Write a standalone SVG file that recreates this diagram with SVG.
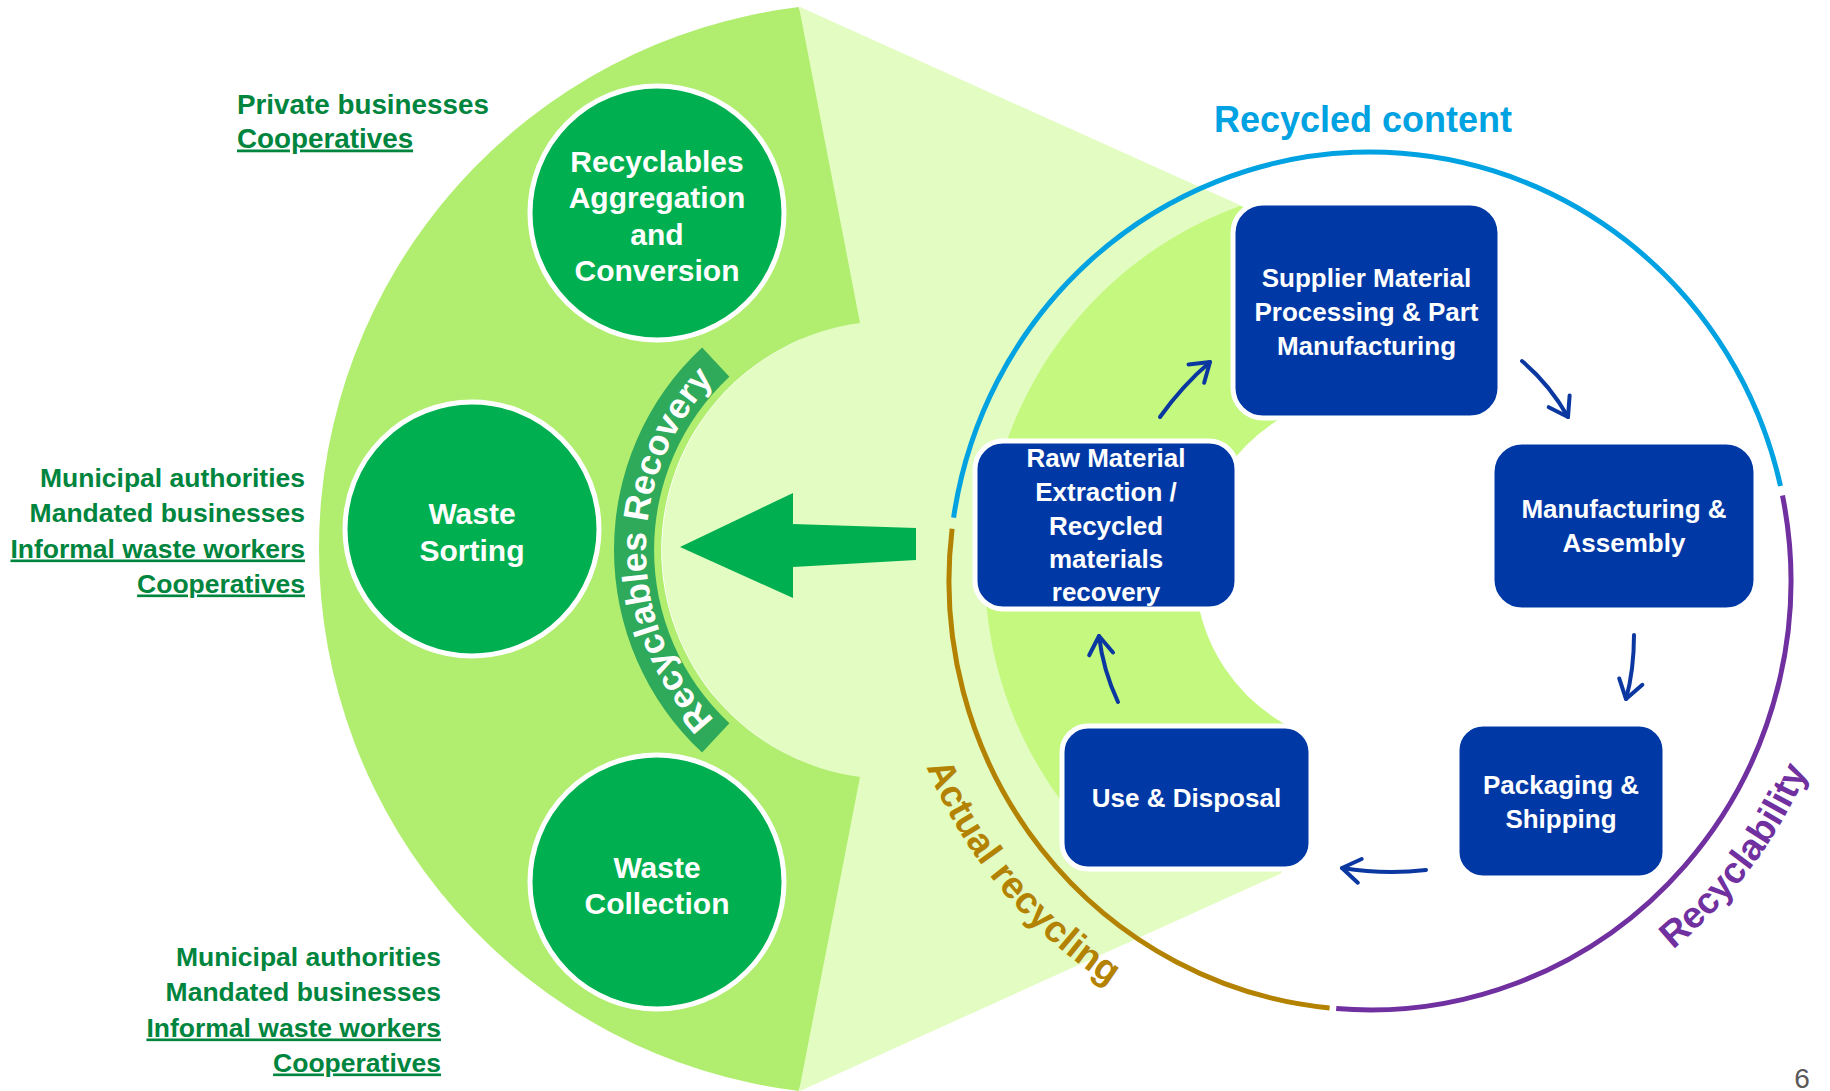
<svg xmlns="http://www.w3.org/2000/svg" width="1830" height="1091" viewBox="0 0 1830 1091">
<style>
.t{font-family:"Liberation Sans",Arial,sans-serif;font-weight:bold}
.cir{fill:#00b050;stroke:#fff;stroke-width:5}
.ct{fill:#fff;font-size:30px;text-anchor:middle}
.box{fill:#0039a6;stroke:#fff;stroke-width:5}
.bt{fill:#fff;font-size:26px;text-anchor:middle}
.lt{fill:#00853e;font-size:26.5px}
.lt.big{font-size:27.8px}
.r{text-anchor:end}
.u{text-decoration:underline}
.conn{fill:none;stroke:#0b38a0;stroke-width:4;stroke-linecap:round;marker-end:url(#ah)}
.arc{fill:none;stroke-width:5}
</style>
<defs>
<marker id="ah" markerUnits="userSpaceOnUse" viewBox="-24 -16 28 32" refX="0" refY="0" markerWidth="28" markerHeight="32" orient="auto"><path d="M-18,-12 L0,0 L-18,12" fill="none" stroke="#0b38a0" stroke-width="4" stroke-linecap="round" stroke-linejoin="round"/></marker>
<path id="rrPath" d="M723.9,729.2 A245 245 0 0 1 723.9,370.8"/>
<path id="arPath" d="M894.9,656.2 A481 481 0 0 0 1213.4,1035.8"/>
<path id="rbPath" d="M1556.4,1020.1 A477 477 0 0 0 1843.4,639.1"/>
</defs>

<g id="background">
<path d="M800,7 L1262,215 L1295,400 L1295,860 L1280,874 L800,1091 Z" fill="#e3fcc2"/>
<circle cx="891" cy="550" r="229" fill="#e3fcc2"/>
<path d="M799,7 A546 546 0 0 0 799,1091 L860,777 A229 229 0 0 1 860,323 Z" fill="#b1ee6f"/>
<path d="M1240,206 A387 387 0 0 0 1115.7,860 L1295,860 L1295,400 L1262,215 Z" fill="#c4f87e"/>
<circle cx="1372" cy="570" r="177" fill="#fff"/>
</g>

<g id="recyclables-recovery">
<path d="M702.1,752.6 A277 277 0 0 1 702.1,347.4 L729.4,376.7 A237 237 0 0 0 729.4,723.3 Z" fill="#2fa95a"/>
<text class="t" fill="#fff" font-size="35.5"><textPath href="#rrPath" startOffset="50%" text-anchor="middle">Recyclables Recovery</textPath></text>
</g>

<g id="big-arrow">
<polygon points="680,547 793,493 793,524 916,528 916,560 793,567 793,598" fill="#00b050"/>
</g>

<g id="cycle-ring">
<path class="arc" stroke="#00a2e1" d="M953.6,517.6 A421 429 0 0 1 1780.5,486"/>
<path class="arc" stroke="#7030a0" d="M1782.5,495.5 A421 429 0 0 1 1336.2,1008.6"/>
<path class="arc" stroke="#b38200" d="M1329.6,1008 A421 429 0 0 1 952.1,528.7"/>
<text class="t" x="1363" y="132" font-size="36" fill="#00a2e1" text-anchor="middle">Recycled content</text>
<text class="t" fill="#b38200" font-size="37.5"><textPath href="#arPath" startOffset="50%" text-anchor="middle">Actual recycling</textPath></text>
<text class="t" fill="#7030a0" font-size="37"><textPath href="#rbPath" startOffset="50%" text-anchor="middle">Recyclability</textPath></text>
</g>

<g id="node-aggregation">
<circle class="cir" cx="657" cy="213" r="127"/>
<text class="t ct"><tspan x="657" y="171.5">Recyclables</tspan><tspan x="657" y="208">Aggregation</tspan><tspan x="657" y="244.5">and</tspan><tspan x="657" y="281">Conversion</tspan></text>
</g>
<g id="node-sorting">
<circle class="cir" cx="472" cy="529" r="127"/>
<text class="t ct"><tspan x="472" y="524">Waste</tspan><tspan x="472" y="560.5">Sorting</tspan></text>
</g>
<g id="node-collection">
<circle class="cir" cx="657" cy="882" r="127"/>
<text class="t ct"><tspan x="657" y="877.5">Waste</tspan><tspan x="657" y="914">Collection</tspan></text>
</g>

<g id="node-supplier">
<rect class="box" x="1233" y="203" width="267" height="215" rx="30"/>
<text class="t bt"><tspan x="1366.5" y="287">Supplier Material</tspan><tspan x="1366.5" y="321">Processing &amp; Part</tspan><tspan x="1366.5" y="354.5">Manufacturing</tspan></text>
</g>
<g id="node-raw">
<rect class="box" x="975" y="441" width="262" height="168" rx="28"/>
<text class="t bt"><tspan x="1106" y="467">Raw Material</tspan><tspan x="1106" y="501">Extraction /</tspan><tspan x="1106" y="534.5">Recycled</tspan><tspan x="1106" y="568">materials</tspan><tspan x="1106" y="601">recovery</tspan></text>
</g>
<g id="node-manufacturing">
<rect class="box" x="1492" y="442" width="264" height="168" rx="30"/>
<text class="t bt"><tspan x="1624" y="518">Manufacturing &amp;</tspan><tspan x="1624" y="552">Assembly</tspan></text>
</g>
<g id="node-packaging">
<rect class="box" x="1457" y="724" width="208" height="154" rx="26"/>
<text class="t bt"><tspan x="1561" y="794">Packaging &amp;</tspan><tspan x="1561" y="828">Shipping</tspan></text>
</g>
<g id="node-use">
<rect class="box" x="1062" y="726" width="249" height="143" rx="26"/>
<text class="t bt" x="1186.5" y="807">Use &amp; Disposal</text>
</g>

<g id="connectors">
<path class="conn" d="M1160,417 Q1182,386 1210,362"/>
<path class="conn" d="M1522,361 Q1550,385 1568,417"/>
<path class="conn" d="M1634,635 Q1634,670 1626,699"/>
<path class="conn" d="M1426,870 Q1385,875 1342,868"/>
<path class="conn" d="M1118,702 Q1103,670 1099,636"/>
</g>

<g id="actors">
<text class="t lt big"><tspan x="237" y="113.5">Private businesses</tspan><tspan x="237" y="147.5" class="u">Cooperatives</tspan></text>
<text class="t lt r"><tspan x="305" y="487">Municipal authorities</tspan><tspan x="305" y="522">Mandated businesses</tspan><tspan x="305" y="557.5" class="u">Informal waste workers</tspan><tspan x="305" y="592.5" class="u">Cooperatives</tspan></text>
<text class="t lt r"><tspan x="441" y="966">Municipal authorities</tspan><tspan x="441" y="1001">Mandated businesses</tspan><tspan x="441" y="1036.5" class="u">Informal waste workers</tspan><tspan x="441" y="1071.5" class="u">Cooperatives</tspan></text>
</g>
<text x="1802" y="1088" font-family="Liberation Sans, Arial, sans-serif" font-size="28" fill="#595959" text-anchor="middle">6</text>
</svg>
